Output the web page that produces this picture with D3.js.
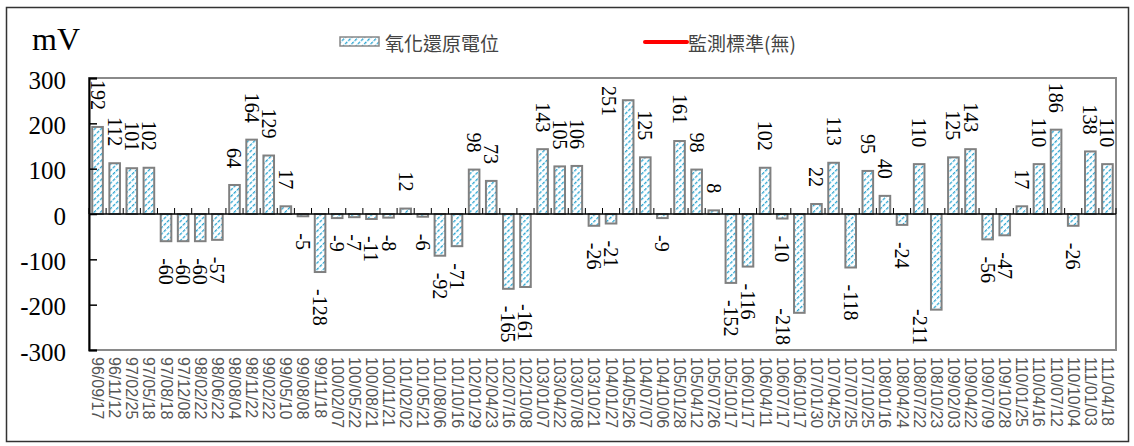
<!DOCTYPE html>
<html>
<head>
<meta charset="utf-8">
<script src="https://cdn.jsdelivr.net/npm/d3@7"></script>
<style>
  body { margin: 0; background: #fff; }
  svg { display: block; }
</style>
</head>
<body>
<div id="chart"></div>
<script>
// sampling dates (ROC calendar) and ORP values, mV
const dates = [
  "96/09/17", "96/11/12", "97/02/25", "97/05/18", "97/08/18", "97/12/08", "98/02/22", "98/06/22",
  "98/08/04", "98/11/22", "99/02/22", "99/05/10", "99/08/08", "99/11/18", "100/02/07", "100/05/22",
  "100/08/21", "100/11/21", "101/02/02", "101/05/21", "101/08/06", "101/10/16", "102/01/29", "102/04/23",
  "102/07/16", "102/10/08", "103/01/07", "103/04/22", "103/07/08", "103/10/21", "104/01/27", "104/05/26",
  "104/07/07", "104/10/06", "105/01/28", "105/04/12", "105/07/26", "105/10/17", "106/01/17", "106/04/11",
  "106/07/17", "106/10/17", "107/01/30", "107/04/25", "107/07/25", "107/10/25", "108/01/16", "108/04/24",
  "108/07/22", "108/10/23", "109/02/03", "109/04/22", "109/07/09", "109/10/28", "110/01/25", "110/04/16",
  "110/07/12", "110/10/04", "111/01/03", "111/04/18"
];
const orp = [
  192, 112, 101, 102, -60, -60, -60, -57, 64, 164, 129, 17, -5, -128, -9, -7,
  -11, -8, 12, -6, -92, -71, 98, 73, -165, -161, 143, 105, 106, -26, -21, 251,
  125, -9, 161, 98, 8, -152, -116, 102, -10, -218, 22, 113, -118, 95, 40, -24,
  110, -211, 125, 143, -56, -47, 17, 110, 186, -26, 138, 110
];
const yTicks = [-300, -200, -100, 0, 100, 200, 300];
const seriesName = "氧化還原電位";
const standardName = "監測標準(無)";

const width = 1134, height = 446;
const plot = { left: 89, right: 1116, top: 78, bottom: 350 };
const serif = "'Liberation Serif', 'Times New Roman', serif";
const cjk = "'Noto Sans CJK TC', sans-serif";

const svg = d3.select("#chart").append("svg")
    .attr("width", width)
    .attr("height", height);

// hatched fill
const pat = svg.append("defs").append("pattern")
    .attr("id", "hatch")
    .attr("patternUnits", "userSpaceOnUse")
    .attr("width", 4.5)
    .attr("height", 4.5)
    .attr("patternTransform", "rotate(45)");
pat.append("rect").attr("width", 4.5).attr("height", 4.5).attr("fill", "#fff");
pat.append("line")
    .attr("x1", 0).attr("y1", 0).attr("x2", 0).attr("y2", 4.5)
    .attr("stroke", "#2aa5d2")
    .attr("stroke-width", 2.6)
    .attr("stroke-dasharray", "3.2,1.3");

// outer frame
svg.append("rect")
    .attr("x", 6.5).attr("y", 7.5)
    .attr("width", 1122).attr("height", 434)
    .attr("fill", "none")
    .attr("stroke", "#333")
    .attr("stroke-width", 1.5);

const x = d3.scaleBand()
    .domain(dates)
    .range([plot.left, plot.right])
    .paddingInner(0.38)
    .paddingOuter(0.19);

const y = d3.scaleLinear()
    .domain([-300, 300])
    .range([plot.bottom, plot.top]);

// plot border
svg.append("rect")
    .attr("x", plot.left).attr("y", plot.top)
    .attr("width", plot.right - plot.left)
    .attr("height", plot.bottom - plot.top)
    .attr("fill", "none")
    .attr("stroke", "#8a8a8a")
    .attr("stroke-width", 2);

// bars
svg.selectAll(".bar")
    .data(orp)
    .enter().append("rect")
    .attr("class", "bar")
    .attr("x", (d, i) => x(dates[i]))
    .attr("width", x.bandwidth())
    .attr("y", d => y(Math.max(0, d)))
    .attr("height", d => Math.abs(y(d) - y(0)))
    .attr("fill", "url(#hatch)")
    .attr("stroke", "#808080")
    .attr("stroke-width", 2);

// y axis
const yAxis = svg.append("g")
    .attr("transform", `translate(${plot.left},0)`)
    .call(d3.axisRight(y).tickValues(yTicks).tickSize(8).tickFormat(""));
yAxis.select(".domain").attr("stroke", "#000").attr("stroke-width", 2);
yAxis.selectAll(".tick line").attr("stroke", "#000").attr("stroke-width", 1.5);

svg.selectAll(".ylab")
    .data(yTicks)
    .enter().append("text")
    .attr("class", "ylab")
    .attr("x", 66)
    .attr("y", d => y(d) + 2)
    .attr("text-anchor", "end")
    .attr("dominant-baseline", "central")
    .attr("font-family", serif)
    .attr("font-size", 25)
    .text(d => d);

svg.append("text")
    .attr("x", 32).attr("y", 50)
    .attr("font-family", serif)
    .attr("font-size", 32)
    .text("mV");

// zero line with category ticks
const bounds = d3.range(dates.length + 1).map(i => plot.left + i * x.step());
svg.append("line")
    .attr("x1", plot.left).attr("x2", plot.right)
    .attr("y1", y(0)).attr("y2", y(0))
    .attr("stroke", "#000").attr("stroke-width", 1.5);
svg.selectAll(".ctick")
    .data(bounds)
    .enter().append("line")
    .attr("class", "ctick")
    .attr("x1", d => d).attr("x2", d => d)
    .attr("y1", y(0)).attr("y2", y(0) - 6)
    .attr("stroke", "#000").attr("stroke-width", 1);

// category labels
svg.selectAll(".xlab")
    .data(dates)
    .enter().append("text")
    .attr("class", "xlab")
    .attr("transform", d => `translate(${x(d) + x.bandwidth() / 2},357) rotate(90)`)
    .attr("dominant-baseline", "central")
    .attr("font-family", "'Liberation Sans', Arial, sans-serif")
    .attr("font-size", 16)
    .attr("fill", "#555")
    .text(d => d);

// value labels
const gap = 17;
svg.selectAll(".vlab")
    .data(orp)
    .enter().append("text")
    .attr("class", "vlab")
    .attr("dominant-baseline", "central")
    .attr("font-family", serif)
    .attr("font-size", 20)
    .text(d => d)
    .each(function(d, i) {
        const t = d3.select(this);
        const len = this.getComputedTextLength();
        let cx = x(dates[i]) + x.bandwidth() / 2;
        let start = d >= 0 ? y(d) - gap - len : y(d) + gap;
        if (start < plot.top - 3) { start = plot.top + 8; cx -= 19; }
        if (start + len > plot.bottom - 2) { start = plot.bottom - 5 - len; cx -= 16; }
        t.attr("transform", `translate(${cx},${start}) rotate(90)`);
    });

// legend
const lg = svg.append("g");
lg.append("rect")
    .attr("x", 340).attr("y", 37)
    .attr("width", 39).attr("height", 9)
    .attr("fill", "url(#hatch)")
    .attr("stroke", "#888").attr("stroke-width", 1.5);
lg.append("text")
    .attr("x", 385).attr("y", 42)
    .attr("dominant-baseline", "central")
    .attr("font-family", cjk)
    .attr("font-size", 19)
    .attr("fill", "#444")
    .text(seriesName);
lg.append("line")
    .attr("x1", 645).attr("x2", 687)
    .attr("y1", 42).attr("y2", 42)
    .attr("stroke", "#f00").attr("stroke-width", 4)
    .attr("stroke-linecap", "round");
lg.append("text")
    .attr("x", 688).attr("y", 42)
    .attr("dominant-baseline", "central")
    .attr("font-family", cjk)
    .attr("font-size", 19)
    .attr("fill", "#444")
    .text(standardName);
</script>
</body>
</html>
